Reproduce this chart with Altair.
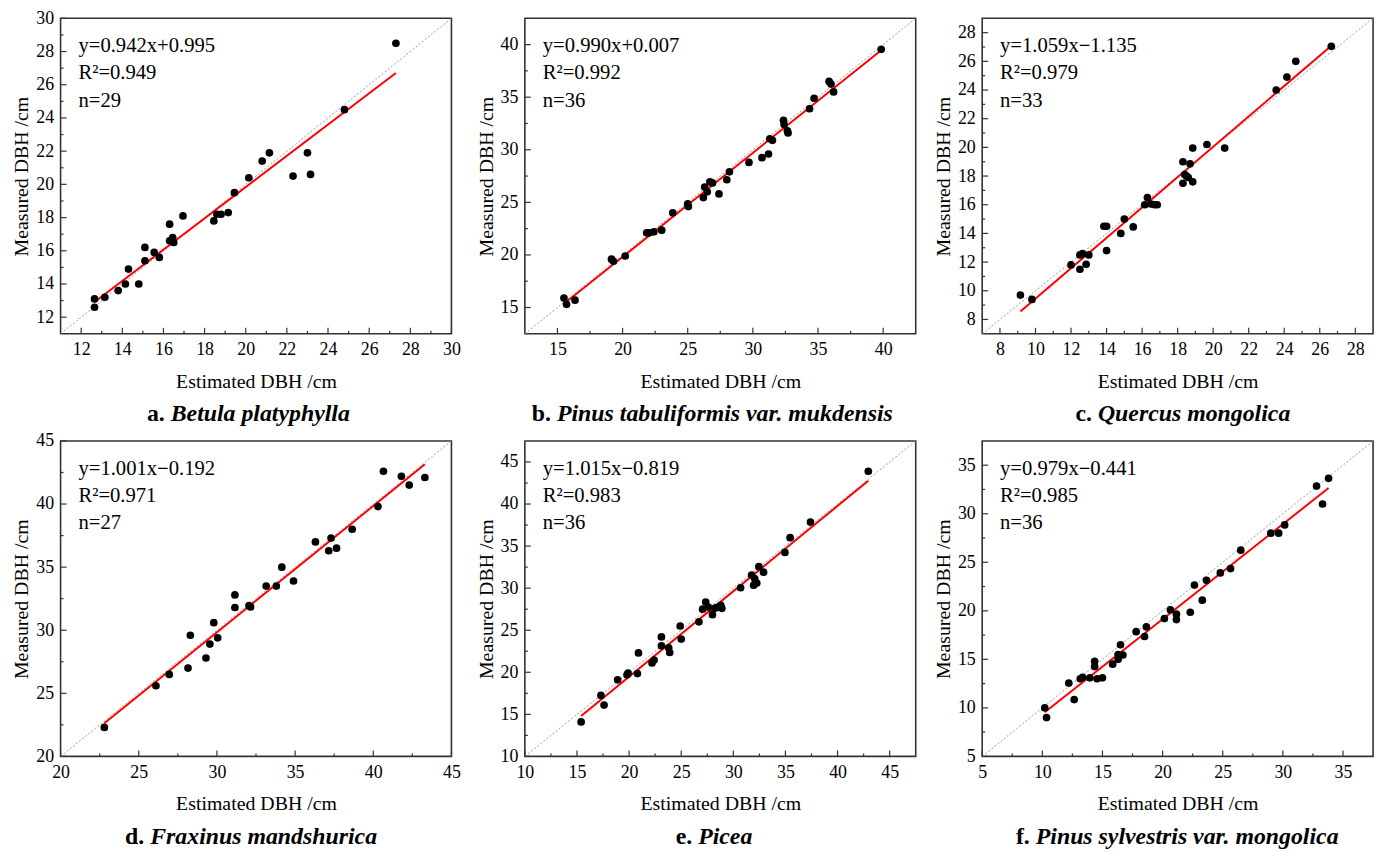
import altair as alt
import pandas as pd

FONT = "Liberation Serif"
W, H = 394, 318

# ---- a. Betula platyphylla ----
a_est = [12.65, 12.65, 13.15, 13.8, 14.15, 14.3, 14.8, 15.1, 15.1, 15.55, 15.8, 16.3, 16.3, 16.45, 16.5,
         16.95, 18.45, 18.6, 18.8, 19.15, 19.45, 20.15, 20.8, 21.15, 22.3, 23.0, 23.15, 24.8, 27.3]
a_meas = [13.1, 12.6, 13.2, 13.6, 14.0, 14.9, 14.0, 15.4, 16.2, 15.9, 15.6, 17.6, 16.6, 16.8, 16.5,
          18.1, 17.8, 18.2, 18.2, 18.3, 19.5, 20.4, 21.4, 21.9, 20.5, 21.9, 20.6, 24.5, 28.5]

# ---- b. Pinus tabuliformis var. mukdensis ----
b_est = [15.5, 15.7, 16.35, 19.15, 19.3, 20.2, 21.85, 22.05, 22.4, 23.0, 23.85, 25.0, 25.05, 26.2, 26.3,
         26.5, 26.7, 26.9, 27.4, 28.0, 28.2, 29.7, 30.7, 31.2, 31.3, 31.5, 32.35, 32.4, 32.65, 32.7,
         34.35, 34.7, 35.85, 36.0, 36.2, 39.85]
b_meas = [15.9, 15.3, 15.7, 19.6, 19.4, 19.9, 22.1, 22.1, 22.2, 22.35, 24.0, 24.85, 24.6, 25.45, 26.45,
          26.0, 26.95, 26.85, 25.8, 27.15, 27.9, 28.8, 29.25, 29.6, 31.05, 30.9, 32.8, 32.4, 31.8, 31.6,
          33.9, 34.9, 36.5, 36.25, 35.5, 39.55]

# ---- c. Quercus mongolica ----
c_est = [9.15, 9.8, 12.0, 12.5, 12.5, 12.65, 12.85, 13.0, 13.85, 14.0, 14.0, 14.8, 15.0, 15.5, 16.15,
         16.3, 16.5, 16.7, 16.85, 18.3, 18.3, 18.4, 18.5, 18.6, 18.7, 18.85, 18.85, 19.65, 20.65, 23.55,
         24.15, 24.65, 26.65]
c_meas = [9.7, 9.4, 11.8, 11.5, 12.5, 12.6, 11.85, 12.5, 14.5, 14.5, 12.8, 14.0, 15.0, 14.45, 16.0,
          16.5, 16.05, 16.0, 16.0, 19.0, 17.5, 18.1, 18.0, 17.9, 18.85, 17.6, 19.95, 20.2, 19.95, 24.0,
          24.9, 26.0, 27.05]

# ---- d. Fraxinus mandshurica ----
d_est = [22.8, 26.1, 26.95, 28.15, 28.3, 29.3, 29.55, 29.8, 30.05, 31.15, 31.15, 32.15, 32.05, 33.15, 33.8,
         34.15, 34.9, 36.3, 37.15, 37.3, 37.65, 38.65, 40.3, 40.65, 41.8, 42.3, 43.3]
d_meas = [22.3, 25.6, 26.5, 27.0, 29.6, 27.8, 28.9, 30.6, 29.4, 32.8, 31.8, 31.85, 31.95, 33.5, 33.5,
          35.0, 33.9, 37.0, 36.3, 37.3, 36.5, 38.0, 39.8, 42.6, 42.2, 41.5, 42.1]

# ---- e. Picea ----
e_est = [15.4, 17.3, 17.6, 18.9, 19.8, 19.9, 20.8, 20.9, 22.2, 22.4, 23.1, 23.1, 23.8, 23.9, 24.9,
         25.0, 26.7, 27.05, 27.35, 27.6, 28.0, 28.2, 28.4, 28.8, 28.9, 30.7, 31.75, 31.95, 32.05, 32.25,
         32.45, 32.9, 34.95, 35.45, 37.4, 42.95]
e_meas = [14.1, 17.25, 16.1, 19.1, 19.7, 19.9, 19.85, 22.3, 21.1, 21.45, 24.2, 23.15, 22.9, 22.35, 25.5,
          23.95, 26.0, 27.5, 28.35, 27.75, 26.85, 27.6, 27.7, 27.95, 27.6, 30.05, 31.55, 30.35, 31.15, 30.6,
          32.55, 31.9, 34.25, 36.0, 37.85, 43.9]

# ---- f. Pinus sylvestris var. mongolica ----
f_est = [10.2, 10.35, 12.2, 12.65, 13.15, 13.35, 13.95, 14.35, 14.35, 14.55, 15.0, 15.85, 16.3, 16.3, 16.5,
         16.7, 17.8, 18.5, 18.65, 20.15, 20.65, 21.15, 21.15, 22.3, 22.65, 23.3, 23.65, 24.8, 25.65, 26.5,
         29.0, 29.65, 30.15, 32.8, 33.3, 33.8]
f_meas = [10.0, 9.0, 12.55, 10.85, 13.0, 13.15, 13.1, 14.8, 14.25, 13.0, 13.1, 14.5, 15.0, 15.5, 16.5,
          15.45, 17.85, 17.35, 18.35, 19.2, 20.1, 19.65, 19.1, 19.85, 22.65, 21.1, 23.15, 23.9, 24.35, 26.25,
          28.0, 28.0, 28.85, 32.85, 31.0, 33.65]

letters = ["a.", "b.", "c.", "d.", "e.", "f."]
species = ["Betula platyphylla", "Pinus tabuliformis var. mukdensis", "Quercus mongolica",
           "Fraxinus mandshurica", "Picea", "Pinus sylvestris var. mongolica"]
equations = ["y=0.942x+0.995", "y=0.990x+0.007", "y=1.059x\u22121.135",
             "y=1.001x\u22120.192", "y=1.015x\u22120.819", "y=0.979x\u22120.441"]
slopes = [0.942, 0.990, 1.059, 1.001, 1.015, 0.979]
intercepts = [0.995, 0.007, -1.135, -0.192, -0.819, -0.441]
r2 = ["0.949", "0.992", "0.979", "0.971", "0.983", "0.985"]
domains = [[11, 30], [12.5, 42.5], [7, 29], [20, 45], [10, 47.5], [5, 37.5]]
majors = [list(range(12, 31, 2)), [15, 20, 25, 30, 35, 40], list(range(8, 29, 2)),
          [20, 25, 30, 35, 40, 45], [10, 15, 20, 25, 30, 35, 40, 45], [5, 10, 15, 20, 25, 30, 35]]
minors = [list(range(13, 30, 2)), [17.5, 22.5, 27.5, 32.5, 37.5], list(range(9, 28, 2)),
          [22.5, 27.5, 32.5, 37.5, 42.5], [12.5, 17.5, 22.5, 27.5, 32.5, 37.5, 42.5],
          [7.5, 12.5, 17.5, 22.5, 27.5, 32.5]]
# caption left offset (px from plot left) and bold letter advance (em)
cap_dx = [87, 7, 94, 65, 152, 34]
letter_em = [1.0, 1.056, 0.944, 1.056, 0.944, 0.833]

ests = [a_est, b_est, c_est, d_est, e_est, f_est]
meas = [a_meas, b_meas, c_meas, d_meas, e_meas, f_meas]

TICK = "#333333"
CAP_FS = 24


def panel(i):
    dom = domains[i]
    df = pd.DataFrame({"est": ests[i], "meas": meas[i]})
    xs = alt.Scale(domain=dom, nice=False, zero=False)
    ys = alt.Scale(domain=dom, nice=False, zero=False)
    common = dict(ticks=False, tickSize=0, domain=False, grid=False, labelFlush=False, labelOverlap=False,
                  labelFont=FONT, labelFontSize=18, labelColor="black",
                  titleFont=FONT, titleFontSize=20, titleFontWeight="normal", titleColor="black")
    xax = alt.Axis(values=majors[i], title="Estimated DBH /cm", labelPadding=7, titlePadding=13, **common)
    yax = alt.Axis(values=majors[i], title="Measured DBH /cm", labelPadding=7, titlePadding=4, **common)

    def X(f):
        return alt.X(f, type="quantitative", scale=xs, axis=xax)

    def Y(f):
        return alt.Y(f, type="quantitative", scale=ys, axis=yax)

    diag = alt.Chart(pd.DataFrame({"x": dom, "y": dom})).mark_line(
        color="#9a9a9a", strokeDash=[2, 2], strokeWidth=1
    ).encode(x=X("x"), y=Y("y"))

    x0, x1 = min(ests[i]), max(ests[i])
    fit = alt.Chart(pd.DataFrame({"x": [x0, x1],
                                  "y": [slopes[i] * x0 + intercepts[i], slopes[i] * x1 + intercepts[i]]})
                    ).mark_line(color="#ff0000", strokeWidth=2).encode(x=X("x"), y=Y("y"))

    pts = alt.Chart(df).mark_circle(size=60, color="black", opacity=1).encode(x=X("est"), y=Y("meas"))

    xmaj = alt.Chart(pd.DataFrame({"v": majors[i]})).mark_rule(color=TICK, strokeWidth=1.2).encode(
        x=X("v"), y=alt.value(H), y2=alt.value(H - 6))
    xmin = alt.Chart(pd.DataFrame({"v": minors[i]})).mark_rule(color=TICK, strokeWidth=1.2).encode(
        x=X("v"), y=alt.value(H), y2=alt.value(H - 3))
    ymaj = alt.Chart(pd.DataFrame({"v": majors[i]})).mark_rule(color=TICK, strokeWidth=1.2).encode(
        y=Y("v"), x=alt.value(0), x2=alt.value(6))
    ymin = alt.Chart(pd.DataFrame({"v": minors[i]})).mark_rule(color=TICK, strokeWidth=1.2).encode(
        y=Y("v"), x=alt.value(0), x2=alt.value(3))

    lines = [equations[i], "R\u00b2=" + r2[i], "n=" + str(len(ests[i]))]
    texts = []
    for k, t in enumerate(lines):
        texts.append(alt.Chart(pd.DataFrame({"t": [t]})).mark_text(
            align="left", baseline="middle", font=FONT, fontSize=20.8, color="black"
        ).encode(text="t:N", x=alt.value(18), y=alt.value(28 + 27.5 * k)))

    cap1 = alt.Chart(pd.DataFrame({"t": [letters[i]]})).mark_text(
        align="left", baseline="middle", font=FONT, fontSize=CAP_FS, fontWeight="bold", color="black"
    ).encode(text="t:N", x=alt.value(cap_dx[i]), y=alt.value(H + 81))
    cap2 = alt.Chart(pd.DataFrame({"t": [species[i]]})).mark_text(
        align="left", baseline="middle", font=FONT, fontSize=CAP_FS, fontWeight="bold",
        fontStyle="italic", color="black"
    ).encode(text="t:N", x=alt.value(cap_dx[i] + letter_em[i] * CAP_FS), y=alt.value(H + 81))

    return alt.layer(diag, fit, pts, xmaj, xmin, ymaj, ymin, *texts, cap1, cap2).properties(
        width=W, height=H)


row1 = alt.hconcat(panel(0), panel(1), panel(2), spacing=14)
row2 = alt.hconcat(panel(3), panel(4), panel(5), spacing=14)

chart = alt.vconcat(row1, row2, spacing=4).properties(
    padding={"left": 3, "top": -3, "right": 5, "bottom": 5},
    background="white",
).configure_view(
    stroke="#333333", strokeWidth=1.6
)

chart.save("out.html", embed_options={"renderer": "svg", "actions": False})
